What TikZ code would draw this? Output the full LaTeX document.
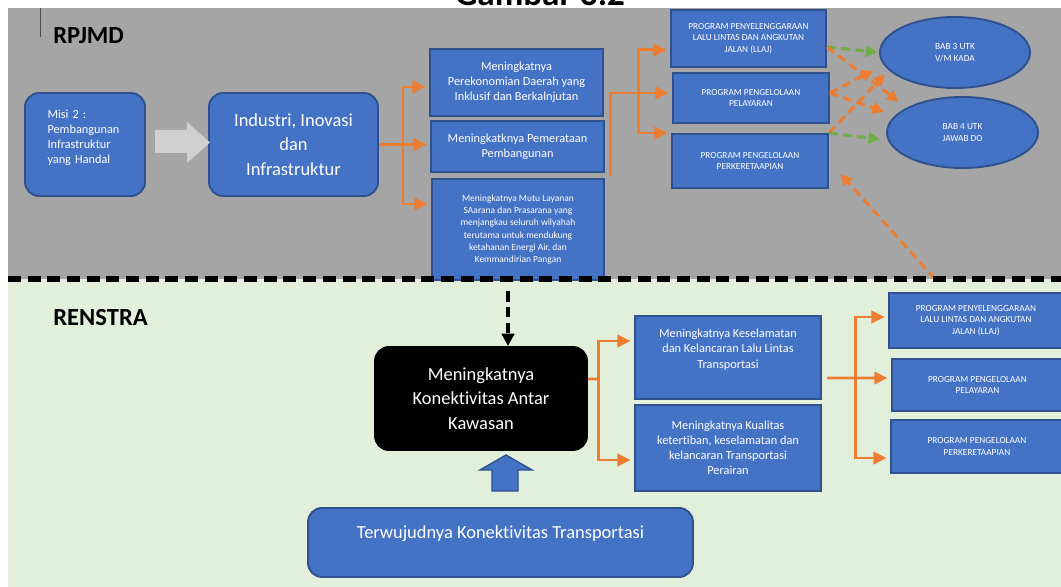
\documentclass[tikz,border=0pt]{standalone}
\usepackage{fontspec}
\setmainfont{Carlito}[Ligatures=CommonOff]
\usetikzlibrary{arrows.meta, positioning, shapes.geometric, calc}
\definecolor{boxblue}{HTML}{4472C4}
\definecolor{boxedge}{HTML}{2F528F}
\definecolor{bggray}{HTML}{A5A5A5}
\definecolor{bggreen}{HTML}{E2EFDA}
\definecolor{arrorange}{HTML}{ED7D31}
\definecolor{arrgreen}{HTML}{70AD47}
\definecolor{palegray}{HTML}{D0D0D0}

\begin{document}
\begin{tikzpicture}[x=0.02cm, y=-0.02cm,
  every node/.style={font=\fontsize{7}{8.6}\selectfont},
  box/.style={draw=boxedge, fill=boxblue, line width=1.1pt, text=white,
              align=center, inner sep=2pt},
  rbox/.style={box, rounded corners=8pt},
  prog/.style={box, font=\fontsize{5.3}{6.6}\selectfont},
  oval/.style={box, ellipse, font=\fontsize{5.3}{6.6}\selectfont},
  big/.style={font=\fontsize{10.5}{14}\selectfont},
  sectlabel/.style={font=\fontsize{14}{16}\selectfont\bfseries, anchor=west, inner sep=0pt},
  oline/.style={line width=1.7pt, color=arrorange},
  arr/.style={oline, -{Triangle[length=7.5pt, width=7pt]}, shorten >=2pt},
  darr/.style={line width=1.7pt, color=arrorange, dash pattern=on 5pt off 3pt,
               -{Triangle[length=6.5pt, width=6.5pt]}},
  garr/.style={darr, color=arrgreen}
]
\useasboundingbox (0,0) rectangle (1061,587);

% Latar
\fill[white] (0,0) rectangle (1061,587);
\fill[bggray] (8,8) rectangle (1061,279);
\fill[bggreen] (8,279) rectangle (1061,587);
\draw[gray!60!black, line width=0.5pt] (40.5,8) -- (40.5,37);
\node[font=\fontsize{20}{24}\selectfont\bfseries, anchor=base] (gbr) at (540,6) {Gambar 3.2};

% Label
\node[sectlabel] (rpjmd) at (53,36) {RPJMD};
\node[sectlabel] (renstra) at (53,318) {RENSTRA};

% RPJMD: misi dan tujuan
\node[rbox, text width=1.5cm, align=left, minimum width=2.4cm, minimum height=2.06cm]
  (misi) at (85,144.5) {Misi 2 :\\Pembangunan\\Infrastruktur\\yang Handal\\[0pt]\mbox{}};
\node[rbox, big, minimum width=3.38cm, minimum height=2.06cm]
  (ind) at (293.5,144.5) {Industri, Inovasi\\dan\\Infrastruktur};
\fill[palegray] (155,130) -- (187,130) -- (187,122) -- (210,142.5)
  -- (187,163) -- (187,153) -- (155,153) -- cycle;

% RPJMD: sasaran
\node[box, minimum width=3.46cm, minimum height=1.34cm] (p1) at (516.5,82.5)
  {Meningkatnya\\Perekonomian Daerah yang\\Inklusif dan Berkalnjutan};
\node[box, minimum width=3.46cm, minimum height=1.02cm] (p2) at (517.5,146.5)
  {Meningkatknya Pemerataan\\Pembangunan};
\node[box, font=\fontsize{5.4}{7}\selectfont, minimum width=3.44cm, minimum height=2.02cm]
  (p3) at (518,229.5) {Meningkatnya Mutu Layanan\\SAarana dan Prasarana yang\\menjangkau seluruh wilyahah\\terutama untuk mendukung\\ketahanan Energi Air, dan\\Kemmandirian Pangan};

% RPJMD: program
\node[prog, minimum width=3.1cm, minimum height=1.14cm] (pa) at (748.5,38.5)
  {PROGRAM PENYELENGGARAAN\\LALU LINTAS DAN ANGKUTAN\\JALAN (LLAJ)};
\node[prog, minimum width=3.12cm, minimum height=1.0cm] (pb) at (751,98)
  {PROGRAM PENGELOLAAN\\PELAYARAN};
\node[prog, minimum width=3.12cm, minimum height=1.08cm] (pc) at (750,161)
  {PROGRAM PENGELOLAAN\\PERKERETAAPIAN};

% Bab
\node[oval, minimum width=3.0cm, minimum height=1.42cm] (e1) at (955,52.5) {BAB 3 UTK\\V/M KADA};
\node[oval, minimum width=3.02cm, minimum height=1.42cm] (e2) at (962.5,132.5) {BAB 4 UTK\\JAWAB DO};

% RENSTRA
\node[rbox, big, fill=black, draw=black, minimum width=4.24cm, minimum height=2.06cm]
  (kaw) at (481,398.5) {Meningkatnya\\Konektivitas Antar\\Kawasan};
\node[rbox, big, minimum width=7.7cm, minimum height=1.38cm, text height=0.25cm, text depth=0.43cm]
  (terw) at (500.5,542.5) {Terwujudnya Konektivitas Transportasi};
\filldraw[fill=boxblue, draw=boxedge, line width=0.8pt] (492,491) -- (492,470) -- (480,470)
  -- (506,455) -- (532,470) -- (518,470) -- (518,491) -- cycle;

\node[box, minimum width=3.72cm, minimum height=1.66cm] (r1) at (728,357.5)
  {Meningkatnya Keselamatan\\dan Kelancaran Lalu Lintas\\Transportasi\\[1.5pt]\mbox{}};
\node[box, minimum width=3.72cm, minimum height=1.72cm] (r2) at (728,448)
  {Meningkatnya Kualitas\\ketertiban, keselamatan dan\\kelancaran Transportasi\\Perairan};

\node[prog, minimum width=3.48cm, minimum height=1.1cm] (qa) at (976,320.5)
  {PROGRAM PENYELENGGARAAN\\LALU LINTAS DAN ANGKUTAN\\JALAN (LLAJ)};
\node[prog, minimum width=3.42cm, minimum height=1.04cm] (qb) at (977.5,385)
  {PROGRAM PENGELOLAAN\\PELAYARAN};
\node[prog, minimum width=3.44cm, minimum height=1.06cm] (qc) at (977,446.5)
  {PROGRAM PENGELOLAAN\\PERKERETAAPIAN};

% Titik cabang
\coordinate (f1) at (403,144.5);
\coordinate (g0) at (610,176);
\coordinate (g1) at (638,93);
\coordinate (h0) at (598,379);
\coordinate (k0) at (827,378);
\coordinate (k1) at (855,378);
\coordinate (c0) at (935,279);
\coordinate (kd) at (508,291);

% Panah oranye
\draw[oline] (ind.east) -- (f1);
\draw[arr] (f1) |- ([yshift=-0.09cm]p1.west);
\draw[arr] (f1) -- (f1 -| p2.west);
\draw[arr] (f1) |- ([yshift=0.51cm]p3.west);

\draw[arr] (g0) |- ([yshift=0.1cm]pb.west);
\draw[arr] (g1) |- ([yshift=-0.23cm]pa.west);
\draw[arr] (g1) |- ([yshift=0.56cm]pc.west);

\draw[oline] ([yshift=0.39cm]kaw.east) -- (h0);
\draw[arr] (h0) |- ([yshift=0.33cm]r1.west);
\draw[arr] (h0) |- ([yshift=-0.24cm]r2.west);

\draw[arr] (k0) -- ([yshift=0.14cm]qb.west);
\draw[arr] (k1) |- ([yshift=0.07cm]qa.west);
\draw[arr] (k1) |- ([yshift=-0.23cm]qc.west);

% Panah putus-putus
\draw[garr, shorten >=1pt] ([yshift=-0.17cm]pa.east) -- (e1.west);
\draw[darr, shorten >=0.2cm] ([yshift=-0.17cm]pa.east) -- (e2.156);
\draw[darr, shorten >=0.24cm] ([yshift=0.1cm]pb.east) -- (e1.190);
\draw[darr, shorten >=0.23cm] ([yshift=0.1cm]pb.east) -- (e2.166);
\draw[darr, shorten >=0.11cm] (pc.north east) -- (e1.195);
\draw[garr, shorten >=0.16cm] (pc.north east) -- (e2.186);
\draw[darr, shorten >=0.35cm] (c0) -- (pc.east);

\draw[line width=2.2pt, dash pattern=on 6pt off 3pt, -{Triangle[length=7pt, width=7pt]}]
  (kd) -- (kd |- kaw.north);

% Garis pemisah
\draw[line width=3pt, dash pattern=on 7.4pt off 3.8pt] (8,279) -- (1061,279);

\end{tikzpicture}
\end{document}
